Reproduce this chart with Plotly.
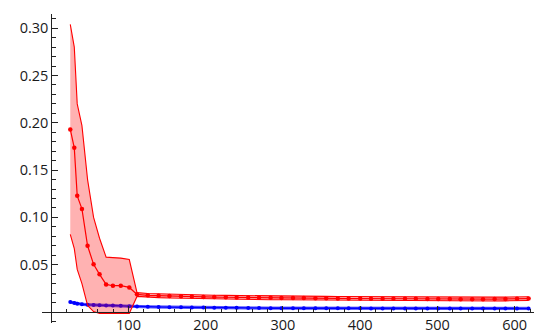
import plotly.graph_objects as go

# sample positions (x)
x_vals = [24.6, 29.8, 33.6, 39.7, 47, 54.8, 62.5, 71, 79.8, 90, 101, 111,
          125, 139, 153, 168, 182, 197, 211, 226, 240, 255, 269, 284, 298,
          313, 327, 342, 356, 371, 385, 400, 414, 429, 443, 458, 472, 487,
          501, 516, 530, 545, 559, 574, 588, 603, 618]

# red series: mean, upper and lower bounds
red_mean = [0.193, 0.1735, 0.1228, 0.109, 0.070, 0.0504, 0.0398, 0.0292, 0.0278, 0.0278, 0.026, 0.0187,
            0.0176, 0.0172, 0.0169, 0.0166, 0.0163, 0.0160, 0.0158, 0.0156, 0.0154, 0.0153, 0.0151, 0.0150, 0.0149,
            0.0148, 0.0147, 0.0146, 0.0145, 0.0144, 0.0143, 0.0142, 0.0141, 0.0141, 0.0140, 0.0139, 0.0139, 0.0138,
            0.0137, 0.0137, 0.0136, 0.0136, 0.0136, 0.0137, 0.0138, 0.0140, 0.0142]
red_upper = [0.304, 0.280, 0.220, 0.197, 0.140, 0.100, 0.078, 0.058, 0.0575, 0.057, 0.0555, 0.0205,
             0.0196, 0.0192, 0.0189, 0.0186, 0.0183, 0.0180, 0.0178, 0.0176, 0.0174, 0.0173, 0.0171, 0.0170, 0.0169,
             0.0168, 0.0167, 0.0166, 0.0165, 0.0164, 0.0163, 0.0162, 0.0161, 0.0161, 0.0160, 0.0159, 0.0159, 0.0158,
             0.0157, 0.0157, 0.0156, 0.0156, 0.0156, 0.0157, 0.0158, 0.0160, 0.0162]
red_lower = [0.082, 0.067, 0.045, 0.030, 0.007, 0.0005, -0.0015, -0.0015, -0.0015, -0.0015, -0.0015, 0.0165,
             0.0156, 0.0152, 0.0149, 0.0146, 0.0143, 0.0140, 0.0138, 0.0136, 0.0134, 0.0133, 0.0131, 0.0130, 0.0129,
             0.0128, 0.0127, 0.0126, 0.0125, 0.0124, 0.0123, 0.0122, 0.0121, 0.0121, 0.0120, 0.0119, 0.0119, 0.0118,
             0.0117, 0.0117, 0.0116, 0.0116, 0.0116, 0.0117, 0.0118, 0.0120, 0.0122]

# blue series: mean, upper and lower bounds
blue_mean = [0.0105, 0.0095, 0.0088, 0.0082, 0.0077, 0.0074, 0.0072, 0.0070, 0.0068, 0.0066, 0.0062, 0.0058,
             0.0055, 0.0053, 0.0051, 0.0050, 0.0048, 0.0047, 0.0046, 0.0045, 0.0044, 0.0043, 0.0042, 0.0041, 0.0041,
             0.0040, 0.0040, 0.0040, 0.0039, 0.0039, 0.0039, 0.0039, 0.0038, 0.0038, 0.0038, 0.0038, 0.0038, 0.0038,
             0.0038, 0.0038, 0.0038, 0.0038, 0.0038, 0.0038, 0.0038, 0.0038, 0.0038]
blue_upper = [0.0117, 0.0107, 0.0100, 0.0094, 0.0089, 0.0086, 0.0084, 0.0082, 0.0080, 0.0078, 0.0074, 0.0070,
              0.0067, 0.0065, 0.0063, 0.0062, 0.0060, 0.0059, 0.0058, 0.0057, 0.0056, 0.0055, 0.0054, 0.0053, 0.0053,
              0.0052, 0.0052, 0.0052, 0.0051, 0.0051, 0.0051, 0.0051, 0.0050, 0.0050, 0.0050, 0.0050, 0.0050, 0.0050,
              0.0050, 0.0050, 0.0050, 0.0050, 0.0050, 0.0050, 0.0050, 0.0050, 0.0050]
blue_lower = [0.0093, 0.0083, 0.0076, 0.0070, 0.0065, 0.0062, 0.0060, 0.0058, 0.0056, 0.0054, 0.0050, 0.0046,
              0.0043, 0.0041, 0.0039, 0.0038, 0.0036, 0.0035, 0.0034, 0.0033, 0.0032, 0.0031, 0.0030, 0.0029, 0.0029,
              0.0028, 0.0028, 0.0028, 0.0027, 0.0027, 0.0027, 0.0027, 0.0026, 0.0026, 0.0026, 0.0026, 0.0026, 0.0026,
              0.0026, 0.0026, 0.0026, 0.0026, 0.0026, 0.0026, 0.0026, 0.0026, 0.0026]

x_ticks = [100, 200, 300, 400, 500, 600]
x_tick_text = ["100", "200", "300", "400", "500", "600"]
y_ticks = [0.05, 0.10, 0.15, 0.20, 0.25, 0.30]
y_tick_text = ["0.05", "0.10", "0.15", "0.20", "0.25", "0.30"]

X_RANGE = [-12, 625]
Y_RANGE = [-0.0116, 0.315]

RED = "rgb(255,0,0)"
BLUE = "rgb(0,0,255)"

fig = go.Figure()

# blue band + line (drawn first, red band overlays it)
fig.add_trace(go.Scatter(x=x_vals, y=blue_lower, mode="lines",
                         line=dict(color="rgba(0,0,255,0.6)", width=1), showlegend=False))
fig.add_trace(go.Scatter(x=x_vals, y=blue_upper, mode="lines", fill="tonexty",
                         fillcolor="rgba(0,0,255,0.3)",
                         line=dict(color="rgba(0,0,255,0.6)", width=1), showlegend=False))
fig.add_trace(go.Scatter(x=x_vals, y=blue_mean, mode="lines+markers",
                         line=dict(color=BLUE, width=1.6),
                         marker=dict(color=BLUE, size=4), showlegend=False))

# red band + line
fig.add_trace(go.Scatter(x=x_vals, y=red_lower, mode="lines",
                         line=dict(color=RED, width=1.1), showlegend=False))
fig.add_trace(go.Scatter(x=x_vals, y=red_upper, mode="lines", fill="tonexty",
                         fillcolor="rgba(255,0,0,0.3)",
                         line=dict(color=RED, width=1.1), showlegend=False))
fig.add_trace(go.Scatter(x=x_vals, y=red_mean, mode="lines+markers",
                         line=dict(color=RED, width=1.2),
                         marker=dict(color=RED, size=4.5), showlegend=False))

tick_font = dict(family="Open Sans", size=14.5, color="#1a1a1a")

x_pos = (0 - Y_RANGE[0]) / (Y_RANGE[1] - Y_RANGE[0])
y_pos = (0 - X_RANGE[0]) / (X_RANGE[1] - X_RANGE[0])

fig.update_layout(
    width=534, height=333,
    margin=dict(l=42, r=0, t=14, b=10),
    paper_bgcolor="white", plot_bgcolor="white",
    showlegend=False,
    xaxis=dict(range=X_RANGE, anchor="free", position=x_pos,
               showgrid=False, zeroline=False, showline=True,
               linecolor="#222222", linewidth=1,
               tickvals=x_ticks, ticktext=x_tick_text,
               ticks="inside", ticklen=6, tickcolor="#222222", tickwidth=1,
               tickfont=tick_font,
               minor=dict(dtick=20, tick0=0, ticks="inside", ticklen=3.5,
                          tickcolor="#222222", showgrid=False)),
    yaxis=dict(range=Y_RANGE, anchor="free", position=y_pos,
               showgrid=False, zeroline=False, showline=True,
               linecolor="#222222", linewidth=1,
               tickvals=y_ticks, ticktext=y_tick_text,
               ticks="inside", ticklen=6, tickcolor="#222222", tickwidth=1,
               tickfont=tick_font,
               minor=dict(dtick=0.01, tick0=0, ticks="inside", ticklen=3.5,
                          tickcolor="#222222", showgrid=False)),
)

fig.write_html("out.html")
